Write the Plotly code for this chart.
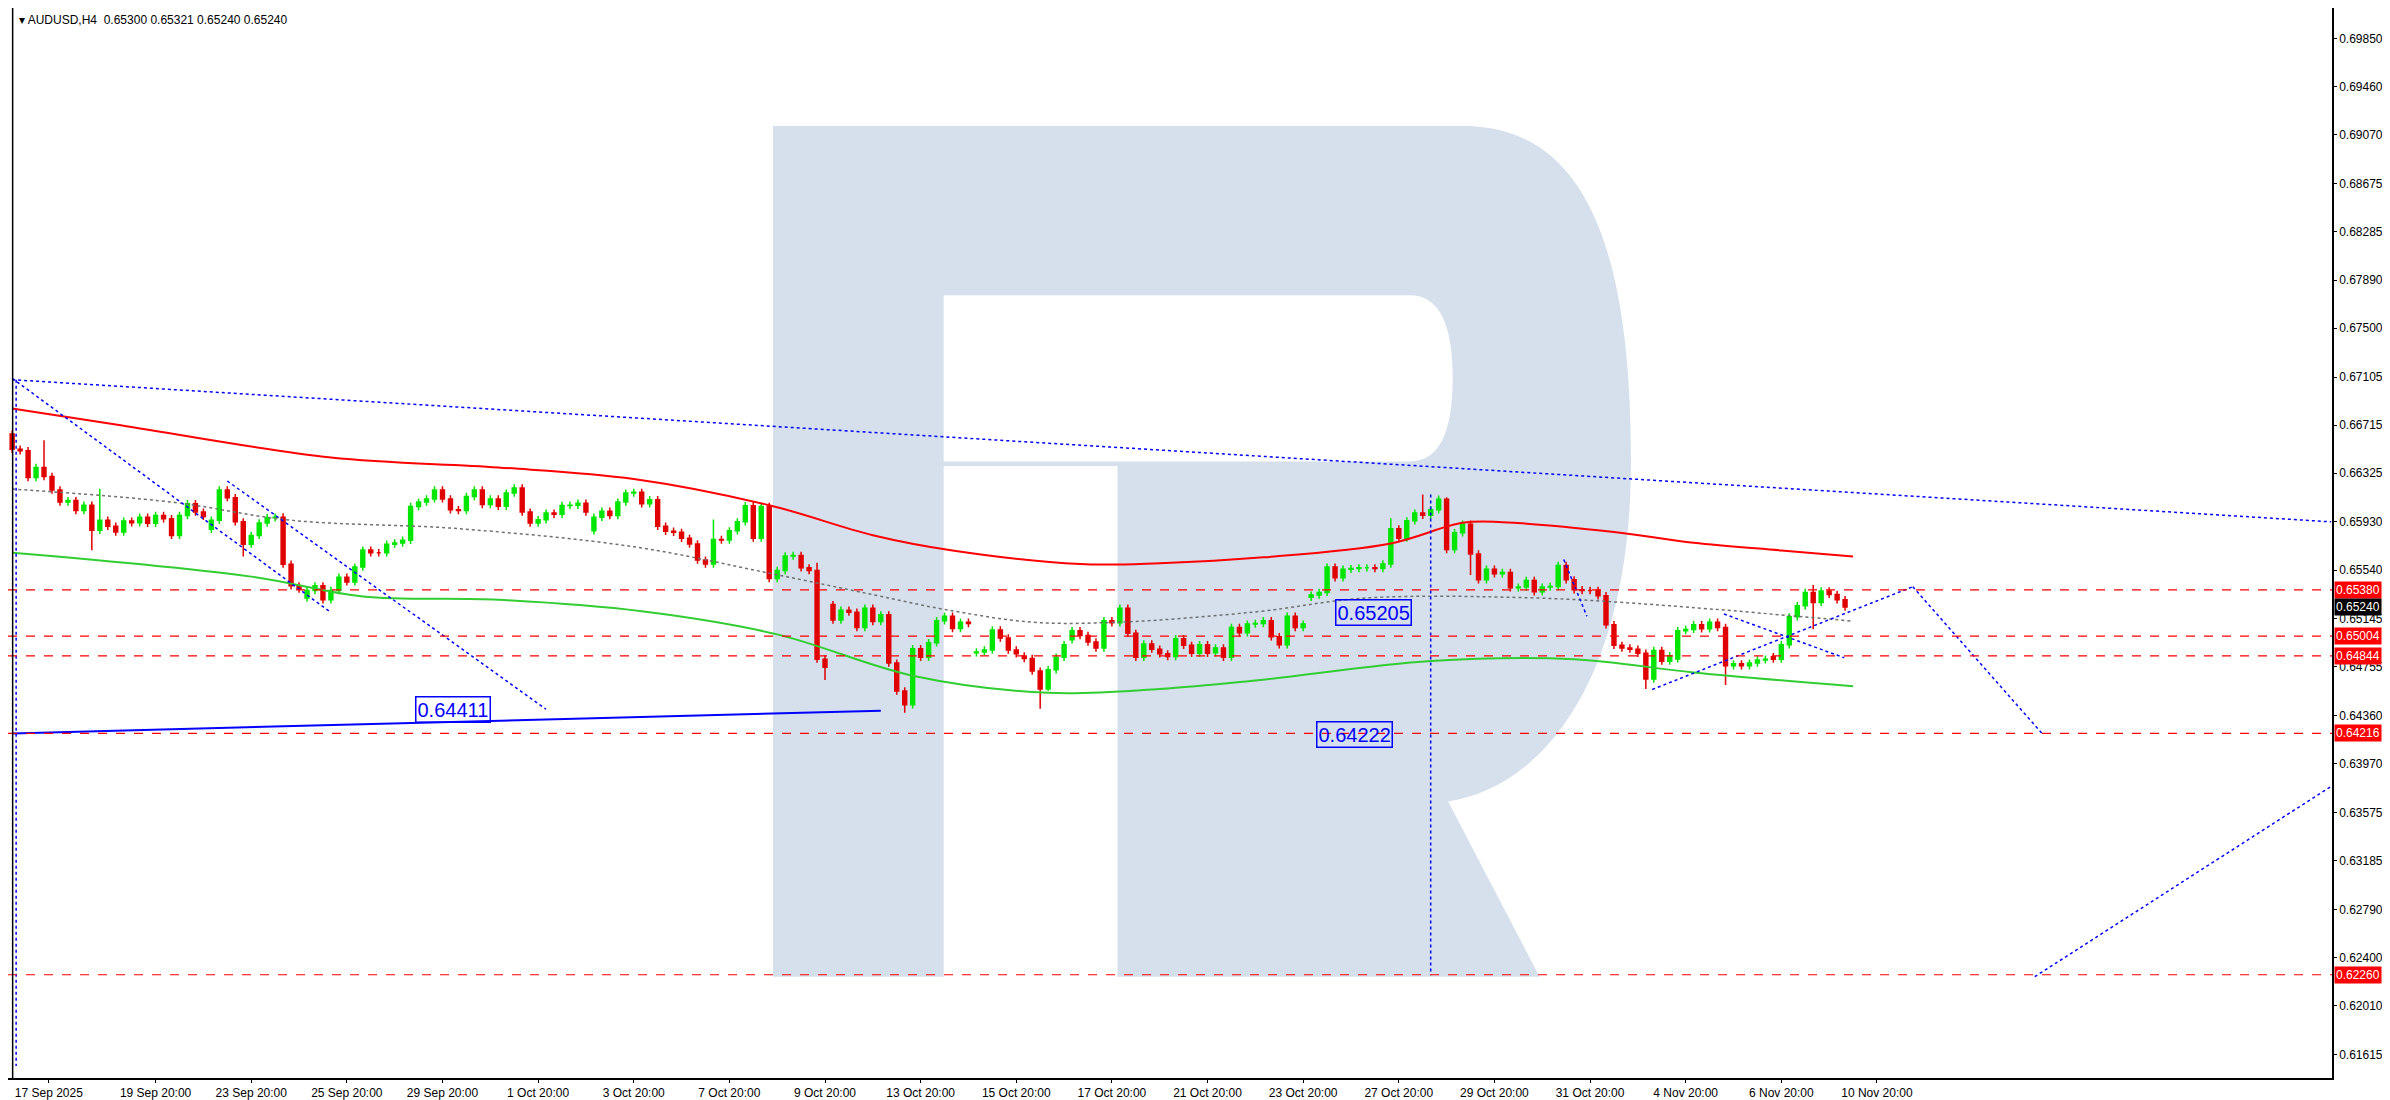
import plotly.graph_objects as go

TITLE = "AUDUSD,H4  0.65300 0.65321 0.65240 0.65240"
FIRST_OPEN = 0.66642
CLOSES = [
0.66519,0.66507,0.66291,0.66372,0.66299,0.66189,0.66091,0.66103,0.66023,0.66066,
0.65863,0.65944,0.65895,0.65849,0.65937,0.65924,0.65968,0.65919,0.65983,0.65956,
0.65821,0.65983,0.66078,0.66010,0.65975,0.65944,0.66190,0.66127,0.65931,0.65750,
0.65821,0.65921,0.65964,0.65968,0.65588,0.65412,0.65387,0.65374,0.65412,0.65299,
0.65374,0.65482,0.65444,0.65564,0.65702,0.65680,0.65680,0.65750,0.65760,0.65782,
0.66055,0.66091,0.66117,0.66190,0.66117,0.66029,0.66023,0.66136,0.66190,0.66071,
0.66117,0.66057,0.66164,0.66206,0.66010,0.65921,0.65948,0.66002,0.65993,0.66064,
0.66066,0.66082,0.66010,0.65968,0.66017,0.65983,0.66091,0.66164,0.66170,0.66078,
0.66110,0.65895,0.65855,0.65846,0.65797,0.65751,0.65621,0.65589,0.65788,0.65784,
0.65858,0.65931,0.66061,0.65799,0.66056,0.65472,0.65536,0.65654,0.65659,0.65558,
0.65536,0.64818,0.64753,0.65135,0.65215,0.65199,0.65075,0.65231,0.65123,0.65177,
0.64786,0.64560,0.64448,0.64903,0.64834,0.64951,0.65129,0.65166,0.65066,0.65118,
0.65107,0.64877,0.64892,0.65054,0.64989,0.64892,0.64861,0.64823,0.64721,0.64576,
0.64732,0.64834,0.64935,0.65048,0.65010,0.64957,0.64908,0.65129,0.65113,0.65231,
0.65027,0.64834,0.64941,0.64899,0.64861,0.64839,0.64984,0.64930,0.64866,0.64935,
0.64866,0.64908,0.64834,0.65075,0.65032,0.65102,0.65107,0.65129,0.65000,0.64935,
0.65166,0.65075,0.65102,0.65337,0.65359,0.65564,0.65478,0.65547,0.65552,0.65558,
0.65558,0.65552,0.65589,0.65874,0.65799,0.65939,0.66002,0.65984,0.66029,0.66115,
0.65707,0.65842,0.65912,0.65670,0.65461,0.65547,0.65510,0.65520,0.65397,0.65402,
0.65456,0.65364,0.65402,0.65407,0.65578,0.65461,0.65380,0.65375,0.65375,0.65332,
0.65097,0.64930,0.64908,0.64899,0.64866,0.64657,0.64888,0.64802,0.64845,0.65049,
0.65059,0.65097,0.65064,0.65118,0.65075,0.64764,0.64780,0.64764,0.64786,0.64812,
0.64818,0.64818,0.64935,0.65161,0.65251,0.65359,0.65278,0.65370,0.65343,0.65300,
0.65240]
# gap opens (index: open)
OPEN_GAPS = {25: 0.65870, 37: 0.65313, 73: 0.65858, 95: 0.66056, 103: 0.65260, 109: 0.65123,
             121: 0.64870, 127: 0.64843, 133: 0.64975, 151: 0.64870, 163: 0.65319, 209: 0.64820, 221: 0.64838}
WICK = 0.00030
HIGH_OVERRIDE = {4: 0.66593, 11: 0.66200, 34: 0.66000, 88: 0.65950, 101: 0.65600, 177: 0.66152,
                 180: 0.66131, 173: 0.65960, 226: 0.65420}
LOW_OVERRIDE = {10: 0.65700, 29: 0.65650, 102: 0.64650, 112: 0.64383, 129: 0.64416, 130: 0.64560,
                205: 0.64576, 215: 0.64608, 226: 0.65060, 183: 0.65500}

RED_IDX = [0, 13, 40, 61, 78, 95, 108, 118, 134, 144, 157, 173, 182, 187, 201, 211, 222, 231]
RED_VAL = [0.66850, 0.66720, 0.66452, 0.66372, 0.66279, 0.66066, 0.65823, 0.65699, 0.65589, 0.65596,
           0.65643, 0.65756, 0.65923, 0.65928, 0.65849, 0.65761, 0.65699, 0.65650]
GREEN_IDX = [0, 30, 44, 61, 79, 96, 113, 130, 144, 156, 178, 196, 211, 231]
GREEN_VAL = [0.65680, 0.65487, 0.65326, 0.65299, 0.65206, 0.65019, 0.64684, 0.64545, 0.64576, 0.64645,
             0.64804, 0.64818, 0.64710, 0.64598]
GREY_IDX = [0, 20, 35, 56, 78, 95, 108, 117, 128, 139, 156, 170, 191, 206, 231]
GREY_VAL = [0.66197, 0.66091, 0.65944, 0.65876, 0.65729, 0.65515, 0.65341, 0.65221, 0.65118, 0.65118,
            0.65201, 0.65314, 0.65314, 0.65260, 0.65126]

LEVELS = [0.65380, 0.65004, 0.64844, 0.64216, 0.62260]
Y_TICKS = [0.69850,0.69460,0.69070,0.68675,0.68285,0.67890,0.67500,0.67105,0.66715,0.66325,0.65930,
           0.65540,0.65145,0.64755,0.64360,0.63970,0.63575,0.63185,0.62790,0.62400,0.62010,0.61615]
PRICE_TAGS = [(0.65380, "#ff0000"), (0.65240, "#000000"), (0.65004, "#ff0000"), (0.64844, "#ff0000"),
              (0.64216, "#ff0000"), (0.62260, "#ff0000")]
X_TICKVALS = [4.6, 18, 30, 42, 54, 66, 78, 90, 102, 114, 126, 138, 150, 162, 174, 186, 198, 210, 222, 234]
X_TICKTEXT = ["17 Sep 2025","19 Sep 20:00","23 Sep 20:00","25 Sep 20:00","29 Sep 20:00","1 Oct 20:00",
              "3 Oct 20:00","7 Oct 20:00","9 Oct 20:00","13 Oct 20:00","15 Oct 20:00","17 Oct 20:00",
              "21 Oct 20:00","23 Oct 20:00","27 Oct 20:00","29 Oct 20:00","31 Oct 20:00","4 Nov 20:00",
              "6 Nov 20:00","10 Nov 20:00"]

# blue dotted analysis lines: (x0, y0, x1, y1)
DOTTED = [
    (0, 0.67083, 291, 0.65931),
    (0, 0.67095, 40, 0.65196),
    (27, 0.66262, 67, 0.64412),
    (0.5, 0.67083, 0.5, 0.61521),
    (178, 0.66152, 178, 0.62256),
    (194.7, 0.65625, 197.6, 0.65166),
    (205.8, 0.64572, 238.5, 0.65405),
    (214.8, 0.65184, 229.9, 0.64829),
    (238.5, 0.65405, 254.7, 0.64216),
    (253.8, 0.62244, 291, 0.63787),
]
SOLID = (0, 0.64216, 109, 0.64400)
BOXES = [(55.3, 0.64412, "0.64411"), (170.8, 0.65196, "0.65205"), (168.5, 0.64204, "0.64222")]

# ---- build OHLC
opens, highs, lows = [], [], []
prev = FIRST_OPEN
for i, c in enumerate(CLOSES):
    o = OPEN_GAPS.get(i, prev)
    opens.append(o)
    highs.append(HIGH_OVERRIDE.get(i, max(o, c) + WICK))
    lows.append(LOW_OVERRIDE.get(i, min(o, c) - WICK))
    prev = c
idx = list(range(len(CLOSES)))

fig = go.Figure()
fig.add_trace(go.Scatter(x=RED_IDX, y=RED_VAL, mode="lines", line=dict(color="#ff0000", width=2, shape="spline"), hoverinfo="skip"))
fig.add_trace(go.Scatter(x=GREEN_IDX, y=GREEN_VAL, mode="lines", line=dict(color="#32cd32", width=2, shape="spline"), hoverinfo="skip"))
fig.add_trace(go.Scatter(x=GREY_IDX, y=GREY_VAL, mode="lines", line=dict(color="#707070", width=1.5, dash="dot", shape="spline"), hoverinfo="skip"))
fig.add_trace(go.Candlestick(x=idx, open=opens, high=highs, low=lows, close=CLOSES,
    increasing=dict(line=dict(color="#00e600", width=1.5), fillcolor="#00e600"),
    decreasing=dict(line=dict(color="#e00000", width=1.5), fillcolor="#e00000"),
    whiskerwidth=0))
for x0, y0, x1, y1 in DOTTED:
    fig.add_trace(go.Scatter(x=[x0, x1], y=[y0, y1], mode="lines", line=dict(color="#0000ff", width=1.5, dash="dot"), hoverinfo="skip"))
fig.add_trace(go.Scatter(x=[SOLID[0], SOLID[2]], y=[SOLID[1], SOLID[3]], mode="lines", line=dict(color="#0000ff", width=2), hoverinfo="skip"))

shapes = []
for lv in LEVELS:
    shapes.append(dict(type="line", xref="paper", x0=0, x1=1, yref="y", y0=lv, y1=lv,
                       line=dict(color="#ff0000", width=1.2, dash="dash"), layer="above"))

W, H = 1525.0, 708.0
def P(pts):
    s = ""
    for cmd, *xy in pts:
        s += cmd
        for k in range(0, len(xy), 2):
            s += f"{xy[k]/W:.5f},{1-xy[k+1]/H:.5f} "
    return s + "Z"
logo = P([("M", 502, 641), ("L", 502, 78), ("L", 955, 78), ("C", 1040, 78, 1065, 170, 1065, 300),
          ("C", 1065, 440, 1010, 515, 945, 525), ("L", 1005, 641), ("L", 728, 641), ("L", 728, 303),
          ("L", 614, 303), ("L", 614, 641)])
hole = P([("M", 614, 190), ("L", 920, 190), ("Q", 948, 190, 948, 245), ("Q", 948, 300, 920, 300), ("L", 614, 300)])
shapes.append(dict(type="path", xref="paper", yref="paper", path=logo, fillcolor="#d5e0ec", line=dict(width=0), layer="below"))
shapes.append(dict(type="path", xref="paper", yref="paper", path=hole, fillcolor="#ffffff", line=dict(width=0), layer="below"))

ann = [dict(xref="paper", yref="paper", x=0.004, y=0.997, xanchor="left", yanchor="top", showarrow=False,
            text="▾ " + TITLE, font=dict(size=12, color="#000000", family="Liberation Sans"))]
for v, col in PRICE_TAGS:
    ann.append(dict(xref="paper", yref="y", x=1.0, y=v, xanchor="left", yanchor="middle", showarrow=False,
                    text=f"{v:.5f}", bgcolor=col, font=dict(size=12, color="#ffffff", family="Liberation Sans"),
                    borderpad=1, xshift=2))
for x, y, t in BOXES:
    ann.append(dict(x=x, y=y, text=t, showarrow=False, bordercolor="#0000ff", borderwidth=1.5, bgcolor="rgba(0,0,0,0)",
                    borderpad=1, font=dict(size=20, color="#0000ff", family="Liberation Sans")))

fig.update_layout(
    width=2390, height=1100, margin=dict(l=0, r=66, t=0, b=30),
    paper_bgcolor="#ffffff", plot_bgcolor="#ffffff", showlegend=False,
    shapes=shapes, annotations=ann,
    xaxis=dict(range=[-0.52, 291.1], tickvals=X_TICKVALS, ticktext=X_TICKTEXT, showgrid=False, zeroline=False,
               rangeslider=dict(visible=False), showline=True, linecolor="#000000", linewidth=1.5, mirror=False,
               ticks="outside", ticklen=3, tickcolor="#000000",
               tickfont=dict(size=12, color="#000000", family="Liberation Sans")),
    yaxis=dict(range=[0.61423, 0.70096], side="right", tickvals=Y_TICKS, ticktext=[f"{v:.5f}" for v in Y_TICKS],
               showgrid=False, zeroline=False, showline=True, linecolor="#000000", linewidth=1.5,
               ticks="outside", ticklen=3, tickcolor="#000000",
               tickfont=dict(size=12, color="#000000", family="Liberation Sans")),
)
fig.add_shape(type="line", xref="paper", yref="paper", x0=0.002, x1=0.002, y0=0, y1=1, line=dict(color="#000000", width=1.5))
fig.write_html("out.html")
